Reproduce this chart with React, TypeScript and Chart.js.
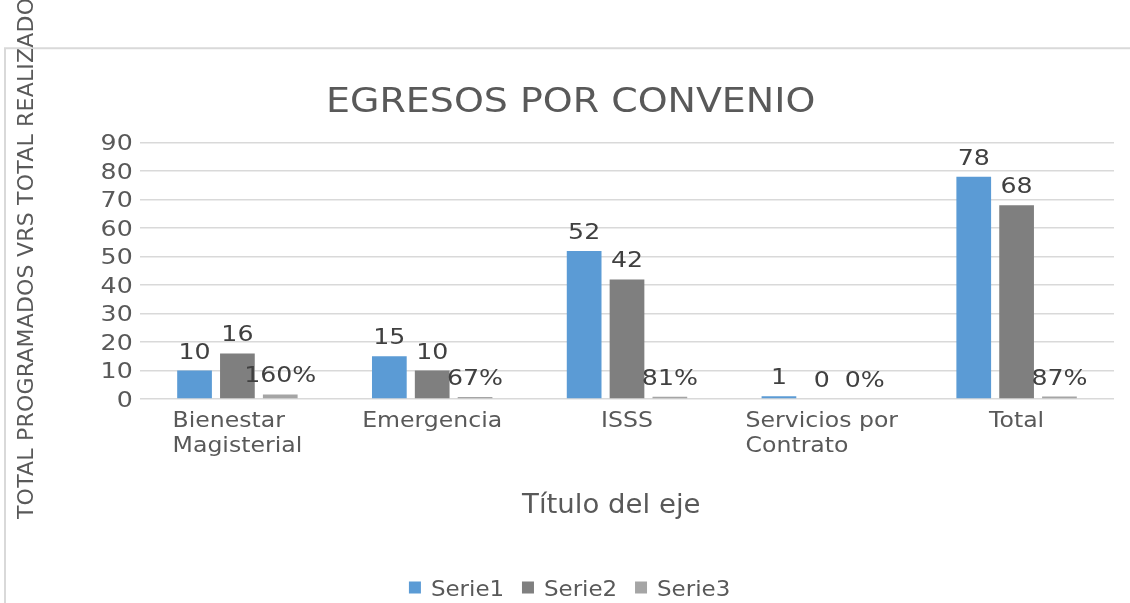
import { useEffect, useRef } from 'react';
import { Chart, registerables } from 'chart.js';

Chart.register(...registerables);

const chartTitle = 'EGRESOS POR CONVENIO';
const yAxisTitle = 'TOTAL PROGRAMADOS VRS TOTAL REALIZADO';
const xAxisTitle = 'Título del eje';
const categories: string[][] = [
  ['Bienestar', 'Magisterial'],
  ['Emergencia'],
  ['ISSS'],
  ['Servicios por', 'Contrato'],
  ['Total'],
];
const seriesNames = ['Serie1', 'Serie2', 'Serie3'];
const serie1 = [10, 15, 52, 1, 78];
const serie2 = [16, 10, 42, 0, 68];
const serie3 = [1.6, 0.67, 0.81, 0, 0.87];
const yMin = 0;
const yMax = 90;
const yStep = 10;
const seriesColors = ['#5B9BD5', '#7F7F7F', '#A5A5A5'];

const FONT = '"DejaVu Sans", sans-serif';
const TEXT = '#595959';
const LABEL = '#404040';

type Style = { size: number; sx: number; sp: number };
const ST_TITLE: Style = { size: 33, sx: 1.15, sp: 0 };
const ST_TICK: Style = { size: 20.5, sx: 1.23, sp: 0 };
const ST_DATA: Style = { size: 20.5, sx: 1.23, sp: 0 };
const ST_CAT: Style = { size: 20.5, sx: 1.15, sp: 0 };
const ST_LEG: Style = { size: 20.5, sx: 1.12, sp: 0 };
const ST_XT: Style = { size: 26, sx: 1.06, sp: 0 };
const ST_YT: Style = { size: 22, sx: 1, sp: 0.2 };

function textWidth(ctx: CanvasRenderingContext2D, text: string, st: Style) {
  ctx.font = `${st.size}px ${FONT}`;
  ctx.letterSpacing = '0px';
  const w = ctx.measureText(text).width;
  return w * st.sx + st.sp * (Array.from(text).length - 1);
}

function drawText(
  ctx: CanvasRenderingContext2D,
  text: string,
  x: number,
  y: number,
  st: Style,
  align: 'left' | 'center' | 'right'
) {
  const vis = textWidth(ctx, text, st);
  let lx = x;
  if (align === 'center') lx = x - vis / 2;
  else if (align === 'right') lx = x - vis;
  ctx.save();
  ctx.translate(lx, y);
  ctx.scale(st.sx, 1);
  ctx.font = `${st.size}px ${FONT}`;
  ctx.letterSpacing = st.sp / st.sx + 'px';
  ctx.textAlign = 'left';
  ctx.textBaseline = 'alphabetic';
  ctx.fillText(text, 0, 0);
  ctx.restore();
}

const formatLabel = (dsIndex: number, v: number) =>
  dsIndex === 2 ? Math.round(v * 100) + '%' : String(v);

const decor = {
  id: 'decor',
  afterDraw(chart: any) {
    const ctx = chart.ctx as CanvasRenderingContext2D;
    ctx.save();

    // outer frame
    ctx.strokeStyle = '#d9d9d9';
    ctx.lineWidth = 2;
    ctx.beginPath();
    ctx.moveTo(5, 700);
    ctx.lineTo(5, 48.3);
    ctx.lineTo(1200, 48.3);
    ctx.stroke();

    // title
    ctx.fillStyle = TEXT;
    drawText(ctx, chartTitle, 570.7, 111.7, ST_TITLE, 'center');

    // y axis title
    ctx.save();
    ctx.translate(33.3, 258.5);
    ctx.rotate(-Math.PI / 2);
    drawText(ctx, yAxisTitle, 0, 0, ST_YT, 'center');
    ctx.restore();

    // x axis title
    drawText(ctx, xAxisTitle, 611.3, 513.3, ST_XT, 'center');

    // y tick labels from the scale's ticks
    const yScale = chart.scales.y;
    yScale.ticks.forEach((t: any) => {
      const py = yScale.getPixelForValue(t.value);
      drawText(ctx, String(t.value), 132.7, py + 7.5, ST_TICK, 'right');
    });

    // category labels (block centered, lines left-aligned)
    const xScale = chart.scales.x;
    categories.forEach((lines, i) => {
      const cx = xScale.getPixelForValue(i);
      const maxW = Math.max(...lines.map((l) => textWidth(ctx, l, ST_CAT)));
      const left = cx - maxW / 2;
      lines.forEach((line, j) => {
        drawText(ctx, line, left, 426.7 + j * 25, ST_CAT, 'left');
      });
    });

    // data labels
    ctx.fillStyle = LABEL;
    chart.data.datasets.forEach((ds: any, di: number) => {
      const meta = chart.getDatasetMeta(di);
      meta.data.forEach((el: any, j: number) => {
        const v = ds.data[j];
        drawText(ctx, formatLabel(di, v), el.x, el.y - 12, ST_DATA, 'center');
      });
    });

    // legend
    const box = 12;
    const boxGap = 9;
    const itemGap = 18.8;
    const widths = chart.data.datasets.map(
      (ds: any) => box + boxGap + textWidth(ctx, ds.label, ST_LEG)
    );
    const total =
      widths.reduce((a: number, b: number) => a + b, 0) + itemGap * (widths.length - 1);
    let x = 569.1 - total / 2;
    chart.data.datasets.forEach((ds: any, di: number) => {
      ctx.fillStyle = ds.backgroundColor;
      ctx.fillRect(x, 581.5, box, box);
      ctx.fillStyle = TEXT;
      drawText(ctx, ds.label, x + box + boxGap + 1, 596, ST_LEG, 'left');
      x += widths[di] + itemGap;
    });

    ctx.restore();
  },
};

export default function App() {
  const ref = useRef<HTMLCanvasElement>(null);
  useEffect(() => {
    const canvas = ref.current!;
    const chart = new Chart(canvas, {
      type: 'bar',
      data: {
        labels: categories.map((c) => c.join(' ')),
        datasets: [
          { label: seriesNames[0], data: serie1, backgroundColor: seriesColors[0] },
          { label: seriesNames[1], data: serie2, backgroundColor: seriesColors[1] },
          { label: seriesNames[2], data: serie3, backgroundColor: seriesColors[2] },
        ],
      },
      options: {
        animation: false,
        responsive: false,
        devicePixelRatio: 1,
        layout: { padding: { left: 100, top: 142.7, right: 16, bottom: 194 } },
        datasets: { bar: { categoryPercentage: 0.66, barPercentage: 0.81 } },
        plugins: {
          legend: { display: false },
          title: { display: false },
          tooltip: { enabled: false },
        },
        scales: {
          x: {
            grid: { display: false },
            border: { display: false },
            ticks: { display: false },
            afterFit: (s: any) => {
              s.height = 10;
            },
          },
          y: {
            min: yMin,
            max: yMax,
            ticks: { stepSize: yStep, display: false },
            grid: { color: '#d9d9d9', lineWidth: 1.5, drawTicks: false },
            border: { display: false },
            afterFit: (s: any) => {
              s.width = 40;
            },
          },
        },
      } as any,
      plugins: [decor],
    });
    return () => chart.destroy();
  }, []);
  return (
    <div
      style={{ position: 'absolute', left: 0, top: 0, width: 1130, height: 603, background: '#fff' }}
    >
      <canvas ref={ref} width={1130} height={603} style={{ display: 'block' }} />
    </div>
  );
}
